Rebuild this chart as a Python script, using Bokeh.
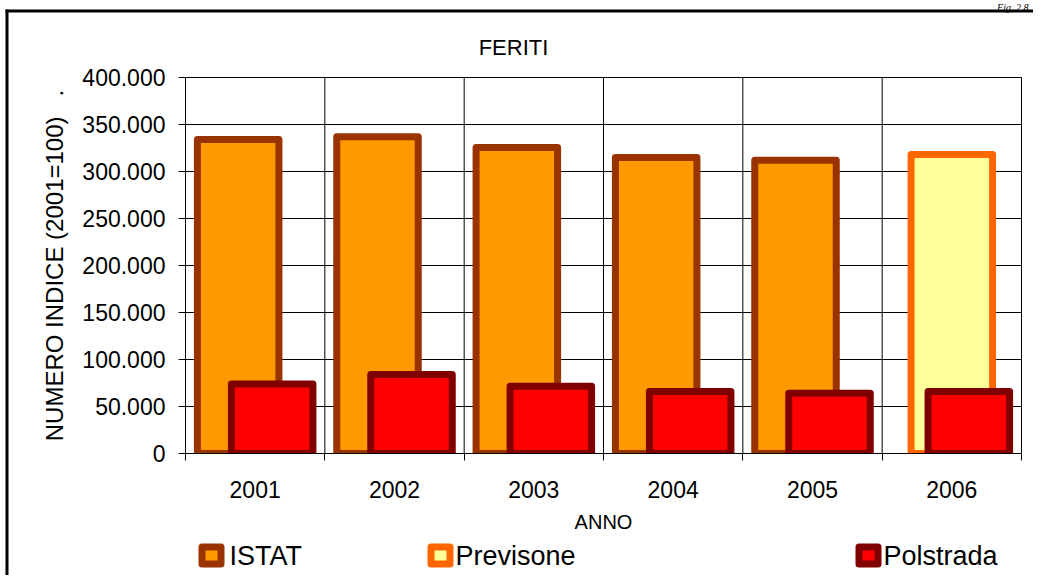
from math import pi
from bokeh.plotting import figure
from bokeh.models import Range1d, FixedTicker, Label, BoxAnnotation
from bokeh.embed import file_html
from bokeh.resources import INLINE

# ---- data ----
years = ["2001", "2002", "2003", "2004", "2005", "2006"]
istat = [334000, 337000, 325500, 315000, 312000, None]
previsione = [None, None, None, None, None, 318000]
polstrada = [74000, 84000, 71500, 66000, 64000, 66000]
y_ticks = [0, 50000, 100000, 150000, 200000, 250000, 300000, 350000, 400000]
y_tick_labels = ["0", "50.000", "100.000", "150.000", "200.000", "250.000",
                 "300.000", "350.000", "400.000"]
series_names = ["ISTAT", "Previsone", "Polstrada"]
fills = ["#FF9900", "#FFFF99", "#FF0000"]
borders = ["#993300", "#FF6600", "#800000"]
chart_title = "FERITI"
x_title = "ANNO"
y_title = "NUMERO INDICE (2001=100)\u00a0\u00a0\u00a0."
fig_label = "Fig. 2.8"

FONT = "Liberation Sans"
W, H = 1033, 575

# plot area in canvas pixels (the frame covers the whole canvas)
PL, PR, PT, PB = 185.0, 1021.0, 77.0, 453.0
X0, X1 = -0.5, len(years) - 0.5
Y0, Y1 = y_ticks[0], y_ticks[-1]
kx = (PR - PL) / (X1 - X0)
ky = (PB - PT) / (Y1 - Y0)


def dx(px):
    return X0 + (px - PL) / kx


def dy(py):
    return Y0 + (PB - py) / ky


p = figure(width=W, height=H, output_backend="svg", toolbar_location=None,
           x_range=Range1d(dx(0), dx(W)), y_range=Range1d(dy(H), dy(0)),
           min_border=0)
p.title.visible = False
p.outline_line_color = None
p.background_fill_color = "white"
p.border_fill_color = "white"
p.grid.visible = False

# grid lines (category boundaries and value ticks)
bounds = [i - 0.5 for i in range(len(years) + 1)]
p.segment(x0=bounds, x1=bounds, y0=[Y0] * len(bounds), y1=[Y1] * len(bounds),
          line_color="black", line_width=1)
p.segment(x0=[X0] * len(y_ticks), x1=[X1] * len(y_ticks), y0=y_ticks, y1=y_ticks,
          line_color="black", line_width=1)

# bars
offsets = [-0.122, 0.0, 0.122]
bw = 0.585
for vals, off, fc, lc in zip([istat, previsione, polstrada], offsets, fills, borders):
    xs = [i + off for i, v in enumerate(vals) if v is not None]
    tops = [v for v in vals if v is not None]
    p.vbar(x=xs, top=tops, bottom=0, width=bw, fill_color=fc,
           line_color=lc, line_width=7, line_join="round")

# hide the lower half of the bars' bottom border below the axis
p.add_layout(BoxAnnotation(left=dx(PL - 6), right=dx(PR + 6), top=0, bottom=dy(PB + 5),
                           fill_color="white", fill_alpha=1, line_color=None,
                           level="glyph"))

# x axis
xa = p.xaxis[0]
xa.fixed_location = 0
xa.bounds = (X0, X1)
xa.ticker = FixedTicker(ticks=list(range(len(years))), minor_ticks=bounds)
xa.major_label_overrides = {i: y for i, y in enumerate(years)}
xa.major_tick_out = 0
xa.major_tick_in = 0
xa.minor_tick_out = 7
xa.minor_tick_in = 0
xa.minor_tick_line_color = "black"
xa.axis_line_color = "black"
xa.major_label_standoff = 20
xa.major_label_text_font = FONT
xa.major_label_text_font_size = "23px"
xa.major_label_text_color = "black"

# y axis
ya = p.yaxis[0]
ya.fixed_location = X0
ya.bounds = (Y0, Y1)
ya.ticker = FixedTicker(ticks=y_ticks, minor_ticks=[])
ya.major_label_overrides = {t: l for t, l in zip(y_ticks, y_tick_labels)}
ya.major_tick_out = 7
ya.major_tick_in = 0
ya.major_tick_line_color = "black"
ya.axis_line_color = "black"
ya.major_label_standoff = 13
ya.major_label_text_font = FONT
ya.major_label_text_font_size = "23px"
ya.major_label_text_color = "black"


def lab(px, py, text, size, align="center", angle=0.0, baseline="middle",
        font=FONT, style="normal"):
    p.add_layout(Label(x=dx(px), y=dy(py), text=text, angle=angle,
                       text_font=font, text_font_size=size, text_font_style=style,
                       text_color="black", text_align=align, text_baseline=baseline))


lab(513, 47, chart_title, "22px")
lab(54, 265, y_title, "24px", angle=pi / 2)
lab(603, 521, x_title, "20px")
lab(1028, 1, fig_label, "10px", align="right", baseline="top",
    font="Liberation Serif", style="italic")

# frame of the chart area
p.add_layout(BoxAnnotation(left=dx(5), right=dx(W + 5), top=dy(9), bottom=dy(12),
                           fill_color="black", fill_alpha=1, line_color=None))
p.add_layout(BoxAnnotation(left=dx(5), right=dx(8), top=dy(9), bottom=dy(H + 5),
                           fill_color="black", fill_alpha=1, line_color=None))

# legend (manual)
marker_x = [198, 427, 855]
text_x = [229, 455, 883]
for mx, tx, name, fc, lc in zip(marker_x, text_x, series_names, fills, borders):
    p.add_layout(BoxAnnotation(left=dx(mx + 3.5), right=dx(mx + 22.5),
                               top=dy(546.5), bottom=dy(563.5),
                               fill_color=fc, fill_alpha=1, line_color=lc,
                               line_width=7, line_alpha=1, line_join="round"))
    lab(tx, 555, name, "27px", align="left")

open("out.html", "w").write(file_html(p, INLINE))
